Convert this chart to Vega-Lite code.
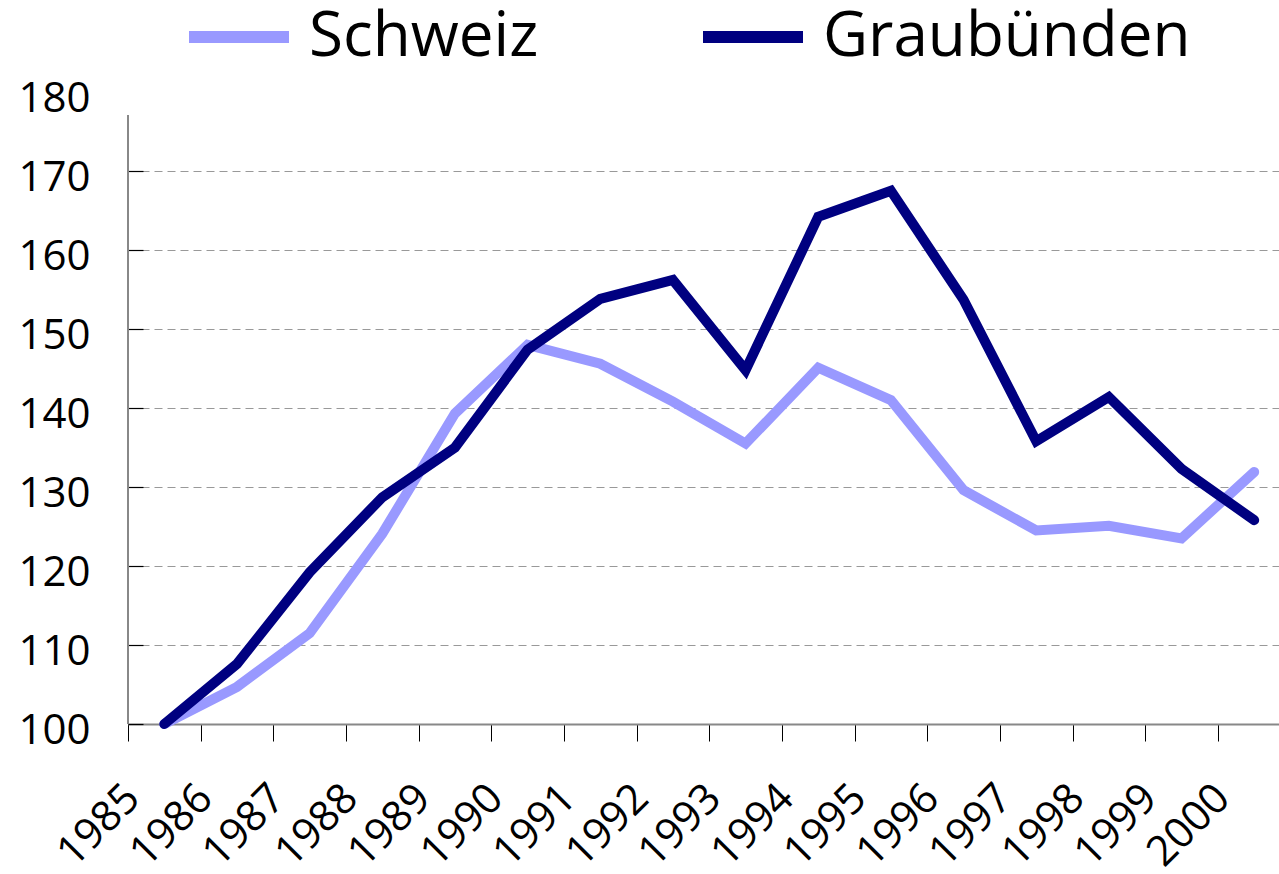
{
  "$schema": "https://vega.github.io/schema/vega-lite/v6.json",
  "autosize": "none",
  "width": 1151,
  "height": 632,
  "padding": {"left": 128, "top": 92, "right": 0, "bottom": 150},
  "background": "white",
  "config": {"view": {"stroke": null}, "font": "Open Sans"},
  "data": {
    "values": [
      {"year": "1985", "region": "Schweiz", "value": 100},
      {"year": "1986", "region": "Schweiz", "value": 104.7},
      {"year": "1987", "region": "Schweiz", "value": 111.5},
      {"year": "1988", "region": "Schweiz", "value": 124.1},
      {"year": "1989", "region": "Schweiz", "value": 139.3},
      {"year": "1990", "region": "Schweiz", "value": 148.0},
      {"year": "1991", "region": "Schweiz", "value": 145.6},
      {"year": "1992", "region": "Schweiz", "value": 140.8},
      {"year": "1993", "region": "Schweiz", "value": 135.5},
      {"year": "1994", "region": "Schweiz", "value": 145.1},
      {"year": "1995", "region": "Schweiz", "value": 141.0},
      {"year": "1996", "region": "Schweiz", "value": 129.6},
      {"year": "1997", "region": "Schweiz", "value": 124.5},
      {"year": "1998", "region": "Schweiz", "value": 125.1},
      {"year": "1999", "region": "Schweiz", "value": 123.5},
      {"year": "2000", "region": "Schweiz", "value": 131.9},
      {"year": "1985", "region": "Graubünden", "value": 100},
      {"year": "1986", "region": "Graubünden", "value": 107.6},
      {"year": "1987", "region": "Graubünden", "value": 119.2},
      {"year": "1988", "region": "Graubünden", "value": 128.7},
      {"year": "1989", "region": "Graubünden", "value": 135.0},
      {"year": "1990", "region": "Graubünden", "value": 147.4},
      {"year": "1991", "region": "Graubünden", "value": 153.8},
      {"year": "1992", "region": "Graubünden", "value": 156.2},
      {"year": "1993", "region": "Graubünden", "value": 144.8},
      {"year": "1994", "region": "Graubünden", "value": 164.2},
      {"year": "1995", "region": "Graubünden", "value": 167.5},
      {"year": "1996", "region": "Graubünden", "value": 153.7},
      {"year": "1997", "region": "Graubünden", "value": 135.8},
      {"year": "1998", "region": "Graubünden", "value": 141.4},
      {"year": "1999", "region": "Graubünden", "value": 132.3},
      {"year": "2000", "region": "Graubünden", "value": 125.8}
    ]
  },
  "layer": [
    {
      "mark": {"type": "rule", "color": "#888888", "strokeWidth": 2},
      "encoding": {
        "x": {"datum": "1985", "type": "ordinal", "bandPosition": 0,
              "scale": {"type": "band", "paddingInner": 0, "paddingOuter": 0, "range": [0, 1162.5]}},
        "y": {"datum": 100, "type": "quantitative", "scale": {"domain": [100, 180], "nice": false, "zero": false}},
        "y2": {"datum": 177}
      }
    },
    {
      "mark": {"type": "line", "strokeWidth": 10, "strokeCap": "round", "strokeJoin": "miter"},
      "encoding": {
        "x": {
          "field": "year", "type": "ordinal", "bandPosition": 0.5,
          "scale": {"type": "band", "paddingInner": 0, "paddingOuter": 0, "range": [0, 1162.5]},
          "axis": {
            "title": null,
            "tickBand": "extent",
            "domainColor": "#888888", "domainWidth": 2,
            "tickColor": "#000000", "tickWidth": 1, "tickSize": 17,
            "labelAngle": -45, "labelAlign": "right", "labelBaseline": "middle",
            "labelOffset": -32, "labelPadding": 50,
            "labelFont": "Open Sans", "labelFontSize": 42, "labelColor": "#000000",
            "labelOverlap": false, "labelFlush": false, "grid": false
          }
        },
        "y": {
          "field": "value", "type": "quantitative",
          "scale": {"domain": [100, 180], "nice": false, "zero": false},
          "axis": {
            "title": null,
            "values": [100, 110, 120, 130, 140, 150, 160, 170, 180],
            "domain": false,
            "grid": true, "gridColor": "#999999", "gridDash": [8, 5], "gridWidth": 1,
            "gridOpacity": {"condition": {"test": "datum.value == 100 || datum.value == 180", "value": 0}, "value": 1},
            "tickColor": "#000000", "tickWidth": 1.2, "tickSize": -15,
            "tickOpacity": {"condition": {"test": "datum.value == 180", "value": 0}, "value": 1},
            "labelPadding": 53, "labelOffset": 6,
            "labelFont": "Open Sans", "labelFontSize": 42, "labelColor": "#000000",
            "labelOverlap": false, "labelFlush": false
          }
        },
        "color": {
          "field": "region", "type": "nominal",
          "scale": {"domain": ["Schweiz", "Graubünden"], "range": ["#9999FF", "#000080"]},
          "legend": {
            "title": null, "orient": "none", "direction": "horizontal",
            "legendX": 55, "legendY": -111,
            "symbolType": "stroke", "symbolSize": 10000, "symbolStrokeWidth": 12,
            "labelFont": "Open Sans", "labelFontSize": 62, "labelColor": "#000000",
            "labelOffset": 14, "labelLimit": 800, "columnPadding": 140
          }
        }
      }
    }
  ]
}
